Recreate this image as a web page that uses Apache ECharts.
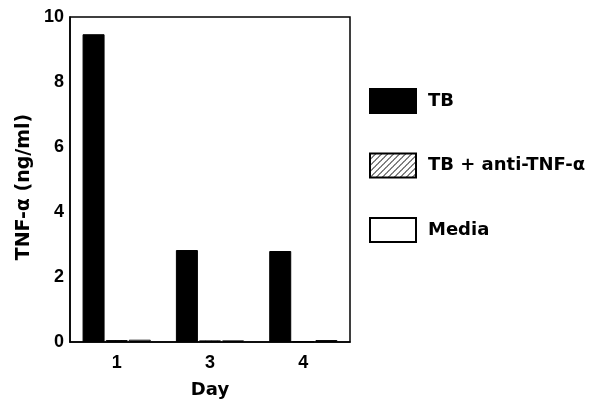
<!DOCTYPE html>
<html>
<head>
<meta charset="utf-8">
<script src="https://cdn.jsdelivr.net/npm/echarts@6/dist/echarts.min.js"></script>
<style>
    html, body { margin: 0; padding: 0; background: #fff; }
    #main { width: 602px; height: 400px; }
</style>
</head>
<body>
<div id="main"></div>
<script>
// data
var days = ['1', '3', '4'];
var tbValues = [9.47, 2.83, 2.8];
var antiTnfValues = [0.06, 0.05, 0.02];
var mediaValues = [0.07, 0.05, 0.06];
var yTicks = [0, 2, 4, 6, 8, 10];

// diagonal hatch for the anti-TNF bars
function hatchPattern() {
    var c = document.createElement('canvas');
    c.width = 6;
    c.height = 6;
    var ctx = c.getContext('2d');
    ctx.fillStyle = '#fff';
    ctx.fillRect(0, 0, 6, 6);
    ctx.strokeStyle = '#000';
    ctx.lineWidth = 1;
    ctx.beginPath();
    ctx.moveTo(0, 6); ctx.lineTo(6, 0);
    ctx.moveTo(-3, 3); ctx.lineTo(3, -3);
    ctx.moveTo(3, 9); ctx.lineTo(9, 3);
    ctx.stroke();
    return {image: c, repeat: 'repeat'};
}

var font = '"Liberation Sans", Arial, sans-serif';
var wideFont = '"DejaVu Sans", sans-serif';
var myChart = echarts.init(document.getElementById('main'));

var option = {
    animation: false,
    backgroundColor: '#fff',
    grid: {
        left: 70,
        right: 252,
        top: 17,
        bottom: 58,
        outerBoundsMode: 'none',
        show: true,
        borderColor: '#000',
        borderWidth: 1.5
    },
    legend: {
        orient: 'vertical',
        left: 364,
        top: 83,
        itemWidth: 46,
        itemHeight: 24,
        itemGap: 38.5,
        icon: 'rect',
        data: ['TB', 'TB + anti-TNF-α', 'Media'],
        textStyle: {
            fontFamily: wideFont,
            fontWeight: 'bold',
            fontSize: 18,
            color: '#000',
            padding: [3, 0, 0, 7]
        }
    },
    xAxis: {
        type: 'category',
        data: days,
        name: 'Day',
        nameLocation: 'middle',
        nameGap: 39,
        nameTextStyle: {fontFamily: wideFont, fontWeight: 'bold', fontSize: 18, color: '#000'},
        axisLine: {lineStyle: {color: '#000', width: 1.5}},
        axisTick: {show: false},
        axisLabel: {fontFamily: font, fontWeight: 'bold', fontSize: 18, color: '#000', margin: 12}
    },
    yAxis: {
        type: 'value',
        min: 0,
        max: 10,
        interval: 2,
        name: 'TNF-α (ng/ml)',
        nameLocation: 'middle',
        nameGap: 36,
        nameTextStyle: {fontFamily: wideFont, fontWeight: 'bold', fontSize: 19, color: '#000', padding: [0, 15, 0, 0]},
        axisLine: {show: true, lineStyle: {color: '#000', width: 1.5}},
        axisTick: {show: false},
        splitLine: {show: false},
        axisLabel: {
            fontFamily: font, fontWeight: 'bold', fontSize: 18, color: '#000', margin: 6,
            formatter: function (v) { return yTicks.indexOf(v) >= 0 ? String(v) : ''; }
        }
    },
    series: [
        {
            name: 'TB',
            type: 'bar',
            barWidth: 22,
            barGap: '5%',
            itemStyle: {color: '#000', borderColor: '#000', borderWidth: 1},
            data: tbValues
        },
        {
            name: 'TB + anti-TNF-α',
            type: 'bar',
            barWidth: 22,
            barGap: '5%',
            itemStyle: {color: hatchPattern(), borderColor: '#000', borderWidth: 1},
            data: antiTnfValues
        },
        {
            name: 'Media',
            type: 'bar',
            barWidth: 22,
            barGap: '5%',
            itemStyle: {color: '#fff', borderColor: '#000', borderWidth: 1},
            data: mediaValues
        }
    ]
};

myChart.setOption(option);
</script>
</body>
</html>
